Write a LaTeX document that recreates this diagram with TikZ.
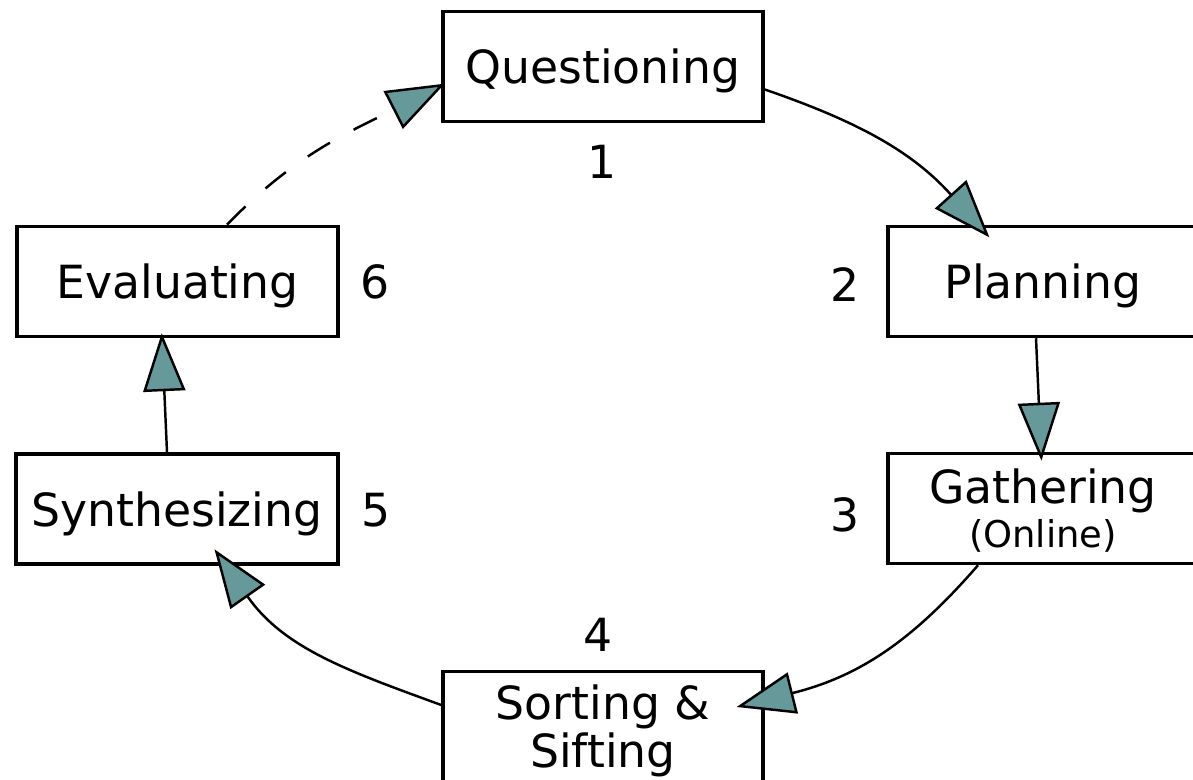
\documentclass[tikz,border=0pt]{standalone}
\usepackage{fontspec}
\setmainfont{DejaVu Sans}
\usetikzlibrary{arrows.meta}
\definecolor{tealgrey}{RGB}{102,153,153}
\begin{document}
\begin{tikzpicture}[
    stage/.style={rectangle, draw, line width=1pt, minimum width=3.2cm, minimum height=1.1cm, inner sep=0pt, align=center, text depth=0pt, font=\fontsize{13}{12.5}\selectfont},
    num/.style={inner sep=0pt, font=\fontsize{13}{15}\selectfont},
    arrow/.style={-{Triangle[length=0.58cm, width=0.42cm, fill=tealgrey]}, line width=0.7pt}
]
    \useasboundingbox (0, 0) rectangle (11.93, 7.80);

    % Six stages round the cycle
    \node[stage] (quest) at (6.03, 7.135) {Questioning};
    \node[stage, minimum width=3.1cm] (plan) at (10.43, 4.985) {Planning};
    \node[stage, minimum width=3.1cm] (gather) at (10.43, 2.715) {Gathering\\{\fontsize{10.5}{11.4}\selectfont(Online)}};
    \node[stage] (sortsift) at (6.03, 0.535) {Sorting \&\\Sifting};
    \node[stage, minimum width=3.22cm] (synth) at (1.77, 2.71) {Synthesizing};
    \node[stage, minimum width=3.21cm] (evalu) at (1.775, 4.985) {Evaluating};

    % Step numbers
    \node[num] (n1) at (6.02, 6.18) {1};
    \node[num] (n2) at (8.45, 4.95) {2};
    \node[num] (n3) at (8.45, 2.65) {3};
    \node[num] (n4) at (5.98, 1.45) {4};
    \node[num] (n5) at (3.76, 2.70) {5};
    \node[num] (n6) at (3.75, 4.98) {6};

    % Arrows round the cycle
    \draw[arrow, shorten >=-0.17cm] ([yshift=-0.23cm]quest.east) to[out=-19, in=132] ([xshift=-0.65cm]plan.north);
    \draw[arrow, shorten >=-0.09cm] ([xshift=-0.07cm]plan.south) -- ([xshift=-0.02cm]gather.north);
    \draw[arrow, shorten >=-0.29cm] ([xshift=-0.65cm]gather.south) to[out=229, in=14] ([yshift=0.265cm]sortsift.east);
    \draw[arrow, shorten >=-0.2cm] ([yshift=0.215cm]sortsift.west) to[out=160, in=-55] ([xshift=0.49cm]synth.south);
    \draw[arrow, shorten >=-0.05cm] ([xshift=-0.10cm]synth.north) -- ([xshift=-0.155cm]evalu.south);
    \draw[arrow, dash pattern=on 0.26cm off 0.27cm, shorten >=-0.04cm] ([xshift=0.495cm]evalu.north) to[out=46, in=207] ([yshift=-0.19cm]quest.west);
\end{tikzpicture}
\end{document}
